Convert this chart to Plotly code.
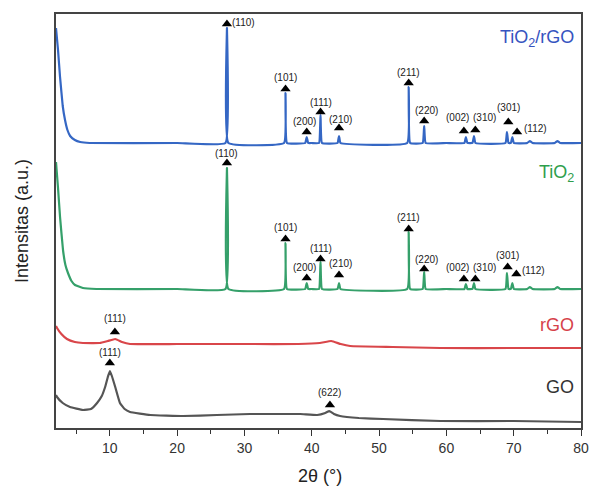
import numpy as np
import plotly.graph_objects as go

# ---------------- data (2θ in degrees, intensity in arbitrary stacked units) -------------
# TiO2/rGO background and peaks
blue_bg_x = [2.0, 2.3, 2.6, 3.0, 3.34, 3.7, 4.1, 4.8, 5.6, 7.0, 20.0, 40.0, 60.0, 72.0, 72.4, 72.8, 76.1, 76.5, 76.9, 80.0]
blue_bg_y = [400, 378, 351, 322, 308, 298, 292, 288, 286, 285, 285, 285, 285, 285, 287, 285, 285, 287, 285, 285]
blue_pk_x = [27.4, 36.1, 39.25, 41.3, 44.05, 54.4, 56.7, 62.9, 64.1, 69.0, 69.8]
blue_pk_y = [400, 335, 291, 313, 292, 341, 302, 291, 292, 296, 291]

# TiO2 background and peaks
green_bg_x = [2.0, 2.3, 2.6, 3.04, 3.4, 3.78, 4.3, 4.82, 6.0, 8.0, 20.0, 40.0, 60.0, 72.0, 72.4, 72.8, 76.1, 76.5, 76.9, 80.0]
green_bg_y = [266, 240, 211, 178, 163, 155, 147, 143, 140, 139, 139, 139, 139, 139, 141, 139, 139, 141, 139, 139]
green_pk_x = [27.4, 36.1, 39.25, 41.3, 44.05, 54.4, 56.7, 62.9, 64.1, 69.0, 69.8]
green_pk_y = [260, 185, 145, 166, 145, 196, 156, 144, 145, 155, 145]

# rGO
red_x = [2.0, 2.15, 2.8, 3.63, 4.8, 6.0, 8.5, 9.7, 10.8, 11.8, 13.0, 20.0, 30.8, 38.0, 41.2, 42.9, 44.3, 45.7, 52.0, 59.1, 70.0, 80.0]
red_y = [102, 100, 94, 89, 86, 85, 85, 87, 89, 86, 84, 84, 84, 84, 85, 87, 84, 82, 81, 80, 80, 80]

# GO
gray_x = [2.0, 2.15, 3.0, 4.08, 6.0, 7.2, 8.1, 8.8, 9.3, 9.7, 10.0, 10.3, 10.8, 11.5, 12.2, 13.0, 16.0, 20.9, 25.9,
          30.8, 35.0, 38.3, 40.8, 42.0, 42.6, 43.3, 44.2, 47.0, 50.6, 59.1, 70.0, 80.0]
gray_y = [33, 31, 25, 21, 18, 19, 25, 32, 41, 51, 57, 52, 41, 25, 19, 16, 13, 12, 13,
          14, 14, 14, 13, 15, 17, 14, 12, 10, 9, 7, 7, 6]

# Miller-index markers: triangle position and label
blue_tri_x = [27.4, 36.1, 39.25, 41.3, 44.05, 54.4, 56.7, 62.6, 64.3, 69.2, 70.5]
blue_tri_y = [404, 339, 296, 316, 300, 345, 307, 297, 298, 306, 296]
green_tri_x = [27.4, 36.1, 39.25, 41.3, 44.05, 54.4, 56.7, 62.6, 64.3, 69.1, 70.4]
green_tri_y = [265, 189, 150, 169, 153, 199, 159, 149, 149, 161, 154]
hkl_labels = ["(110)", "(101)", "(200)", "(111)", "(210)", "(211)", "(220)", "(002)", "(310)", "(301)", "(112)"]
blue_lab_x = [27.9, 36.1, 38.9, 41.4, 44.3, 54.3, 57.0, 61.6, 65.7, 69.2, 71.3]
blue_lab_y = [406, 351, 307, 326, 309, 356, 318, 311, 311, 321, 300]
green_lab_x = [27.4, 36.1, 38.9, 41.4, 44.3, 54.3, 57.0, 61.6, 65.6, 69.1, 71.0]
green_lab_y = [275, 201, 161, 180, 165, 211, 169, 161, 161, 173, 158]

carbon_tri_x = [10.75, 10.0, 42.7]
carbon_tri_y = [96, 65, 23]
carbon_labels = ["(111)", "(111)", "(622)"]
carbon_lab_y = [110, 76, 36]

series_names = ["TiO<sub>2</sub>/rGO", "TiO<sub>2</sub>", "rGO", "GO"]
series_name_y = [390, 255, 103, 41]

BLUE = "#3567c4"
GREEN = "#35a06a"
RED = "#d9464a"
GRAY = "#555555"
label_colors = ["#3553c0", "#2e9e4c", "#d6424a", "#333333"]


def build(bg_x, bg_y, pk_x, pk_y, half=0.22):
    xs = list(bg_x)
    ys = list(bg_y)
    for px, py in zip(pk_x, pk_y):
        for dx in (-half, half):
            xs.append(px + dx)
            ys.append(float(np.interp(px + dx, bg_x, bg_y)))
        xs.append(px)
        ys.append(py)
    order = np.argsort(xs, kind="stable")
    return [xs[i] for i in order], [ys[i] for i in order]


bx, by = build(blue_bg_x, blue_bg_y, blue_pk_x, blue_pk_y)
gx, gy = build(green_bg_x, green_bg_y, green_pk_x, green_pk_y)

fig = go.Figure()
for x, y, c in [(gray_x, gray_y, GRAY), (red_x, red_y, RED), (gx, gy, GREEN), (bx, by, BLUE)]:
    fig.add_trace(go.Scatter(x=x, y=y, mode="lines", line=dict(color=c, width=2.2, shape="spline", smoothing=0.3),
                             showlegend=False, hoverinfo="skip"))

tri_x = blue_tri_x + green_tri_x + carbon_tri_x
tri_y = blue_tri_y + green_tri_y + carbon_tri_y
fig.add_trace(go.Scatter(x=tri_x, y=tri_y, mode="markers",
                         marker=dict(symbol="triangle-up", size=9, color="black"),
                         showlegend=False, hoverinfo="skip"))

FAM = "Liberation Sans, Arial, sans-serif"
lab_font = dict(family=FAM, size=10, color="#222222")
for i, t in enumerate(hkl_labels):
    fig.add_annotation(x=blue_lab_x[i], y=blue_lab_y[i], text=t, showarrow=False,
                       xanchor="left" if (i == 0 or i == 10) else "center", yanchor="middle", font=lab_font)
    fig.add_annotation(x=green_lab_x[i], y=green_lab_y[i], text=t, showarrow=False,
                       xanchor="left" if i == 10 else "center", yanchor="middle", font=lab_font)
for x, y, t in zip(carbon_tri_x, carbon_lab_y, carbon_labels):
    fig.add_annotation(x=x, y=y, text=t, showarrow=False, xanchor="center", yanchor="middle", font=lab_font)

for name, y, c in zip(series_names, series_name_y, label_colors):
    fig.add_annotation(x=79.2, y=y, text=name, showarrow=False, xanchor="right", yanchor="middle",
                       font=dict(family=FAM, size=18, color=c))

# axis titles
fig.add_annotation(xref="paper", yref="paper", x=(320 - 56) / 525, y=(428 - 476) / 414,
                   text="2θ (°)", showarrow=False, xanchor="center", yanchor="middle",
                   font=dict(family=FAM, size=18, color="#222222"))
fig.add_annotation(xref="paper", yref="paper", x=(22 - 56) / 525, y=0.5, textangle=-90,
                   text="Intensitas (a.u.)", showarrow=False, xanchor="center", yanchor="middle",
                   font=dict(family=FAM, size=18, color="#222222"))

fig.update_layout(
    width=592, height=495,
    margin=dict(l=56, r=11, t=14, b=67, autoexpand=False),
    paper_bgcolor="white", plot_bgcolor="white",
    font=dict(family=FAM, color="#333333"),
)
fig.update_xaxes(range=[2, 80], tick0=0, dtick=10, ticks="outside", ticklen=6, tickwidth=1.3,
                 tickcolor="#333333", minor=dict(dtick=5, ticks="outside", ticklen=4, tickcolor="#333333", tickwidth=1.3),
                 showline=True, mirror=True, linecolor="#444444", linewidth=1.5, showgrid=False, zeroline=False,
                 tickfont=dict(size=14, color="#333333"), automargin=False, ticklabeloverflow="allow")
fig.update_yaxes(range=[0, 414], showticklabels=False, ticks="", showline=True, mirror=True,
                 linecolor="#444444", linewidth=1.5, showgrid=False, zeroline=False, automargin=False)

fig.write_html("out.html", config={"displayModeBar": False},
               post_script="document.body.style.margin='0';document.body.style.overflow='hidden';")
